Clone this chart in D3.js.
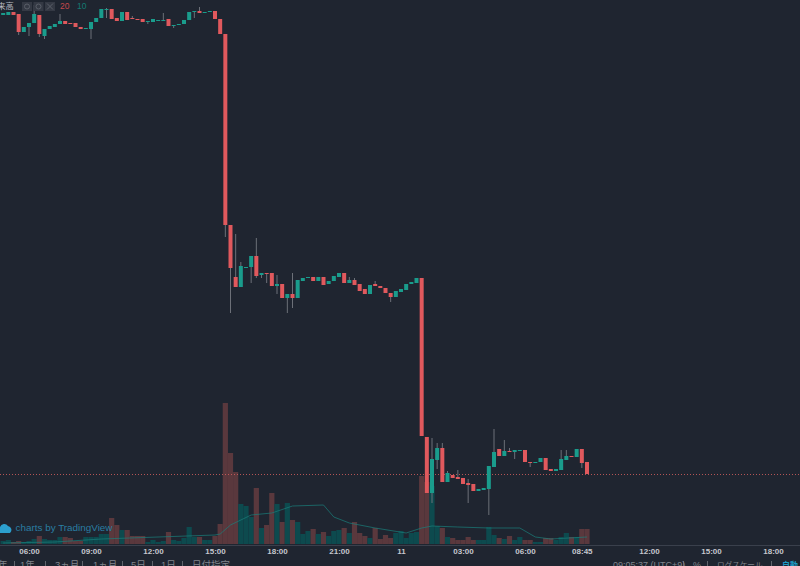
<!DOCTYPE html>
<html>
<head>
<meta charset="utf-8">
<script src="https://cdn.jsdelivr.net/npm/d3@7"></script>
<style>
  html, body { margin: 0; padding: 0; background: #1f2530; overflow: hidden; }
  svg { display: block; }
  text { font-family: "Liberation Sans", "Noto Sans CJK JP", sans-serif; }
</style>
</head>
<body>
<div class="plot"></div>
<script>
// 15 minute bars, first one is 04:45 on the 10th
const opens = [985,985,988,986,968,973,977,985,964,971,973,976,979,977,977,973,971,971,978,982,990,991,982,979,988,982,981,981,978,978,979,979,981,974,975,976,980,988,989,987,988,
  989,981,966,775,723,713,732,733,744,725,727,727,714,716,702,706,702,719,722,723,719,723,716,719,723,727,717,720,716,711,706,716,714,712,707,703,708,710,716,717,
  722,563,507,540,552,518,525,523,522,517,516,509,510,511,533,551,544,549,548,549,550,538,537,538,542,531,529,530,540,544,543,551,538];
const closes = [987,988,985,968,973,977,986,966,971,974,976,979,976,976,973,971,972,978,982,991,991,981,979,988,980,981,980,978,979,981,980,980,974,975,976,980,988,989,987,988,989,
  981,966,775,732,713,734,733,744,724,727,726,714,716,702,706,702,720,722,723,719,723,715,719,724,727,717,720,715,709,706,715,714,712,707,703,709,711,716,718,722,
  564,507,541,552,518,527,522,521,516,515,509,511,512,534,548,544,549,548,550,550,538,537,538,542,530,529,531,541,544,543,551,537,526];
const highs = [987,988,988,986,973,977,995,985,971,974,976,986,979,977,977,973,972,978,982,991,992,991,982,988,988,984,981,981,979,981,980,987,981,975,976,980,988,989,993,988,989,
  989,981,966,775,766,738,733,744,762,727,727,727,725,716,706,727,720,722,723,723,723,723,719,724,727,727,723,722,716,711,715,719,714,712,707,709,711,716,718,722,
  722,563,562,557,557,529,525,530,522,521,516,511,512,534,571,551,560,552,550,550,550,538,538,542,542,531,531,550,550,544,551,551,538];
const lows = [985,985,985,965,968,964,977,963,961,971,973,976,976,976,973,971,971,961,978,982,982,981,979,979,980,981,980,978,976,978,979,979,974,972,975,976,980,982,987,987,988,
  981,966,763,687,713,713,732,717,722,722,717,714,706,702,687,692,702,719,722,719,719,715,716,719,723,717,717,715,709,706,706,714,712,707,698,703,708,710,716,717,
  564,507,497,531,518,518,522,521,516,497,509,509,510,485,533,544,544,548,541,549,538,533,537,538,530,529,529,530,540,543,543,532,526];
const volumes = [3,4,2,3,2,3,5,8,5,4,4,7,7,6,3,3,7,7,7,10,10,26,19,14,14,8,8,8,2,4,2,3,12,4,3,6,17,7,7,4,4,
  8,20,141,91,72,40,38,27,56,16,19,51,40,22,41,24,22,10,13,15,10,12,8,13,14,16,11,22,11,8,6,16,5,9,6,11,13,6,11,12,
  68,62,58,18,16,7,6,4,4,7,4,4,4,17,9,6,5,8,4,7,4,4,2,2,6,6,4,7,11,7,7,15,15];

// moving average of volume, read at a handful of bars (bar number from 04:45)
const maBars = [0,10,19,41,42,44,48,52,56,62,64,67,72,78,81,83,88,94,100,103,106,113];
const maValues = [1,2,5,9,10,19,29,31,38,39,27,21,16,11,16,18,17,16,16,7,5,7];

const tickHours = [[10,6],[10,9],[10,12],[10,15],[10,18],[10,21],[11,0],[11,3],[11,6],[11,8.75],[11,12],[11,15],[11,18]];
const tickLabels = ["06:00","09:00","12:00","15:00","18:00","21:00","11","03:00","06:00","08:45","12:00","15:00","18:00"];
const rangeLabels = ["年","1年","3ヵ月","1ヵ月","5日","1日","日付指定"];

const width = 800, height = 566, plotBottom = 545;
const upColor = "#1a9c8c", downColor = "#e0595d";

const svg = d3.select(".plot")
    .append("svg")
        .attr("width", width)
        .attr("height", height);

svg.append("rect").attr("width", width).attr("height", height).attr("fill", "#1f2530");

const barTime = i => new Date(2018, 0, 10, 4, 45 + i * 15);
const hourTime = d => new Date(2018, 0, d[0], d[1], (d[1] % 1) * 60);

const x = d3.scaleTime()
    .domain([new Date(2018, 0, 10, 6), new Date(2018, 0, 11, 18)])
    .range([29, 773]);
const y = d3.scaleLinear().domain([455, 1000]).range([plotBottom, 0]);
const yVol = d3.scaleLinear().domain([0, 141]).range([plotBottom - 1, 403]);

const idx = d3.range(opens.length);
const isUp = i => closes[i] >= opens[i];

// Volume bars
svg.append("g").selectAll("rect")
    .data(idx)
    .enter()
    .append("rect")
        .attr("x", i => x(barTime(i)) - 2.6)
        .attr("width", 5.2)
        .attr("y", i => yVol(volumes[i]))
        .attr("height", i => yVol(0) - yVol(volumes[i]))
        .attr("fill", i => isUp(i) ? "#0d4a4e" : "#5a383d");

// Volume moving average
const maLine = d3.line()
    .x((d, i) => x(barTime(maBars[i])))
    .y(d => yVol(d));
svg.append("path")
    .datum(maValues)
    .attr("fill", "none")
    .attr("stroke", "#1a7f7a")
    .attr("stroke-opacity", 0.7)
    .attr("d", maLine);

// Last price line
svg.append("line")
    .attr("x1", 0)
    .attr("x2", width)
    .attr("y1", Math.round(y(closes[closes.length - 1])) + 0.5)
    .attr("y2", Math.round(y(closes[closes.length - 1])) + 0.5)
    .attr("stroke", "#d9605f")
    .attr("stroke-opacity", 0.8)
    .attr("stroke-dasharray", "1 2");

// Logo
const logo = svg.append("g").attr("transform", "translate(-3,524)");
logo.append("path")
    .attr("d", "M1 9 a3.5 3.5 0 0 1 2 -6 a4.5 4.5 0 0 1 8 -1 a4 4 0 0 1 2 7 z")
    .attr("fill", "#2c9fce");
svg.append("text")
    .attr("x", 15.5)
    .attr("y", 531)
    .attr("font-size", 9.9)
    .attr("fill", "#2a7ea3")
    .text("charts by TradingView");

// Candles
const candles = svg.append("g").selectAll("g")
    .data(idx)
    .enter()
    .append("g");
candles.append("line")
    .attr("x1", i => x(barTime(i)))
    .attr("x2", i => x(barTime(i)))
    .attr("y1", i => y(highs[i]))
    .attr("y2", i => y(lows[i]))
    .attr("stroke", "#6c7078");
candles.append("rect")
    .attr("x", i => x(barTime(i)) - 2)
    .attr("width", 4)
    .attr("y", i => y(Math.max(opens[i], closes[i])))
    .attr("height", i => Math.max(1, Math.abs(y(opens[i]) - y(closes[i]))))
    .attr("fill", i => isUp(i) ? upColor : downColor);

// Time axis
const axis = d3.axisBottom(x)
    .tickValues(tickHours.map(hourTime))
    .tickFormat((d, i) => tickLabels[i])
    .tickSize(0)
    .tickPadding(3);
const axisG = svg.append("g")
    .attr("transform", "translate(0," + plotBottom + ")")
    .call(axis);
axisG.select(".domain").attr("stroke", "#3a404c").attr("d", "M0,0.5H800");
axisG.selectAll("text")
    .attr("font-family", "'Liberation Sans', sans-serif")
    .attr("font-size", 8)
    .attr("font-weight", "bold")
    .attr("fill", "#c5c8ce");

// Study legend
svg.append("text").attr("x", -11).attr("y", 9).attr("font-size", 8.3).attr("fill", "#b8bbc2").text("出来高");
const iconX = d3.scaleLinear().domain([0, 2]).range([22, 45]);
const icons = svg.append("g").selectAll("g")
    .data(d3.range(3))
    .enter()
    .append("g")
        .attr("transform", d => "translate(" + iconX(d) + ",2)");
icons.append("rect").attr("width", 10).attr("height", 9).attr("fill", "#343944");
icons.filter(d => d < 2).append("circle")
    .attr("cx", 5).attr("cy", 4.5).attr("r", 2.5)
    .attr("fill", "none").attr("stroke", "#5a5f69");
icons.filter(d => d == 2).append("path")
    .attr("d", "M2 1.5L8 7.5M8 1.5L2 7.5")
    .attr("stroke", "#5a5f69");
svg.append("text").attr("x", 60).attr("y", 9).attr("font-size", 8.5).attr("fill", "#c5484c").text("20");
svg.append("text").attr("x", 77).attr("y", 9).attr("font-size", 8.5).attr("fill", "#137a72").text("10");

// Bottom toolbar, cut off by the window
const footerColor = "#80848c";
const footerY = 568;
const rangeX = d3.scaleOrdinal().domain(rangeLabels).range([-2, 20, 55, 93, 131, 161, 192]);
svg.append("g").selectAll("text")
    .data(rangeLabels)
    .enter()
    .append("text")
        .attr("x", d => rangeX(d))
        .attr("y", footerY)
        .attr("font-size", 9.5)
        .attr("fill", footerColor)
        .text(d => d);
svg.append("g").selectAll("line")
    .data([14, 45, 82, 122, 152, 182, 683, 707, 771])
    .enter()
    .append("line")
        .attr("x1", d => d + 0.5)
        .attr("x2", d => d + 0.5)
        .attr("y1", 561)
        .attr("y2", 566)
        .attr("stroke", "#5f636b");
svg.append("text").attr("x", 613).attr("y", footerY).attr("font-size", 9).attr("fill", footerColor).text("09:05:37 (UTC+9)");
svg.append("text").attr("x", 693).attr("y", footerY).attr("font-size", 9).attr("fill", footerColor).text("%");
svg.append("text").attr("x", 717).attr("y", footerY).attr("font-size", 7.6).attr("fill", footerColor).text("ログスケール");
svg.append("text").attr("x", 782).attr("y", footerY).attr("font-size", 8).attr("font-weight", "bold").attr("fill", "#1f9ac4").text("自動");
</script>
</body>
</html>
